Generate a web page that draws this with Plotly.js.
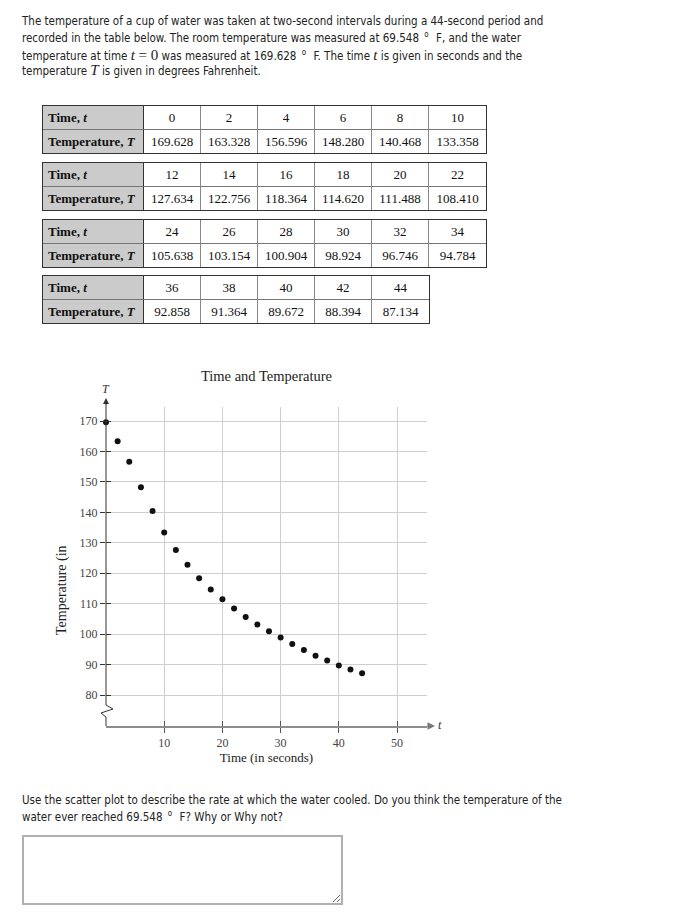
<!DOCTYPE html>
<html>
<head>
<meta charset="utf-8">
<script src="https://cdn.plot.ly/plotly-3.0.1.min.js"></script>
<style>
  body { margin:0; background:#fff; width:699px; height:916px; position:relative; overflow:hidden;
         font-family:"DejaVu Sans Condensed","DejaVu Sans",sans-serif; font-size:11.5px; color:#222; }
  .ln { position:absolute; left:22px; white-space:nowrap; line-height:16px; }
  .m { font-family:"Liberation Serif",serif; font-size:15px; }
  .deg { font-size:8px; position:relative; top:-5px; padding:0 4px 0 2px; }
  table { position:absolute; left:42px; border-collapse:separate; border-spacing:0; border:1px solid #333;
          table-layout:fixed; font-family:"Liberation Serif",serif; font-size:13px; color:#111; }
  td { height:23px; padding:0; text-align:center; border-right:1px solid #888; border-bottom:1px solid #777; }
  tr:last-child td { border-bottom:none; }
  td:last-child { border-right:none; }
  td.h { background:#cbcbcb; text-align:left; padding-left:5px; font-weight:bold; border-right:1px solid #333; }
  #chart { position:absolute; left:0; top:350px; width:699px; height:430px; }
  textarea { position:absolute; left:22px; top:835px; width:321px; height:70px; box-sizing:border-box;
             border:2px solid #b0b0b0; resize:both; }
</style>
</head>
<body>
<div class="ln" style="top:13px">The temperature of a cup of water was taken at two-second intervals during a 44-second period and</div>
<div class="ln" style="top:30px">recorded in the table below. The room temperature was measured at 69.548 <span class="deg">o</span> F, and the water</div>
<div class="ln" style="top:47px">temperature at time <span class="m"><i>t</i> = 0</span> was measured at 169.628 <span class="deg">o</span> F. The time <span class="m"><i>t</i></span> is given in seconds and the</div>
<div class="ln" style="top:62px">temperature <span class="m"><i>T</i></span> is given in degrees Fahrenheit.</div>

<div id="tables"></div>
<div id="chart"></div>

<div class="ln" style="top:792px">Use the scatter plot to describe the rate at which the water cooled. Do you think the temperature of the</div>
<div class="ln" style="top:809px">water ever reached 69.548 <span class="deg">o</span> F? Why or Why not?</div>
<textarea></textarea>

<script>
// measurements
const times = [0, 2, 4, 6, 8, 10, 12, 14, 16, 18, 20, 22, 24, 26, 28, 30, 32, 34, 36, 38, 40, 42, 44];
const temps = [169.628, 163.328, 156.596, 148.280, 140.468, 133.358,
               127.634, 122.756, 118.364, 114.620, 111.488, 108.410,
               105.638, 103.154, 100.904, 98.924, 96.746, 94.784,
               92.858, 91.364, 89.672, 88.394, 87.134];
const xTicks = [10, 20, 30, 40, 50];
const yTicks = [80, 90, 100, 110, 120, 130, 140, 150, 160, 170];

// tables, six readings per table
const holder = document.getElementById('tables');
for (let i = 0; i * 6 < times.length; i++) {
  const ts = times.slice(i * 6, i * 6 + 6);
  const vs = temps.slice(i * 6, i * 6 + 6);
  const tbl = document.createElement('table');
  tbl.style.top = Math.round(105 + i * 56.8) + 'px';
  let cols = '<colgroup><col style="width:101px">' + ts.map(() => '<col style="width:57px">').join('') + '</colgroup>';
  let r1 = '<tr><td class="h">Time, <i>t</i></td>' + ts.map(t => `<td>${t}</td>`).join('') + '</tr>';
  let r2 = '<tr><td class="h">Temperature, <i>T</i></td>' + vs.map(v => `<td>${v.toFixed(3)}</td>`).join('') + '</tr>';
  tbl.innerHTML = cols + r1 + r2;
  holder.appendChild(tbl);
}

// chart
const serif = 'Liberation Serif, Times New Roman, serif';
const xRange = [0, 55.15], yRange = [69.82, 174.6];
const L = 106, R = 427, T = 407, B = 726;          // plot box, page pixels
const top0 = 350;                                  // chart div top
const pX = p => (p - L) / (R - L);                 // page px -> paper
const pY = p => (B - p) / (B - T);

const data = [
  { type:'scatter', mode:'markers', x:times, y:temps, cliponaxis:false, hoverinfo:'skip',
    marker:{ color:'#111', size:6 } },
  { type:'scatter', x:[], y:[], xaxis:'x2', yaxis:'y2', hoverinfo:'skip' }
];

const tickFont = { family:serif, size:12, color:'#444' };
const label = (x, y, text, extra) => Object.assign({
  xref:'paper', yref:'paper', x:pX(x), y:pY(y), text:text, showarrow:false,
  xanchor:'center', yanchor:'middle', font:{ family:serif, size:12, color:'#333' }
}, extra || {});

const layout = {
  width:699, height:430, showlegend:false,
  margin:{ l:L, r:699 - R, t:T - top0, b:top0 + 430 - B },
  paper_bgcolor:'#fff', plot_bgcolor:'#fff',
  title:{ text:'Time and Temperature', font:{ family:serif, size:14.5, color:'#222' },
          x:0.5, xref:'paper', xanchor:'center', y:1 - 26 / 430, yanchor:'middle' },
  xaxis:{ range:xRange, tickvals:xTicks, ticks:'outside', ticklen:5, tickcolor:'#555',
          showgrid:true, gridcolor:'#cfcfcf', zeroline:false,
          showline:true, linecolor:'#8c8c8c', linewidth:2,
          tickfont:tickFont, automargin:false, fixedrange:true,
          title:{ text:'Time (in seconds)', font:{ family:serif, size:13, color:'#222' }, standoff:1 } },
  xaxis2:{ overlaying:'x', anchor:'y2', range:xRange, tickvals:xTicks, ticks:'inside', ticklen:5,
           tickcolor:'#555', showticklabels:false, showgrid:false, zeroline:false, showline:false },
  yaxis:{ range:yRange, tickvals:yTicks, ticks:'outside', ticklen:5, tickcolor:'#333',
          showgrid:true, gridcolor:'#cfcfcf', zeroline:false, showline:false,
          tickfont:tickFont, automargin:false, fixedrange:true },
  yaxis2:{ overlaying:'y', anchor:'x2', range:yRange, tickvals:yTicks, ticks:'inside', ticklen:5,
           tickcolor:'#333', showticklabels:false, showgrid:false, zeroline:false, showline:false },
  shapes:[
    // vertical axis with the break mark below 80
    { type:'path', xref:'paper', yref:'paper', layer:'above', line:{ color:'#333', width:1 },
      path:`M ${pX(106)},${pY(726)} L ${pX(106)},${pY(717)} L ${pX(101)},${pY(713)} L ${pX(113)},${pY(709)} L ${pX(106)},${pY(705)} L ${pX(106)},${pY(402)}` }
  ],
  annotations:[
    { xref:'paper', yref:'paper', x:pX(106), y:pY(398), ax:0, ay:8, text:'', showarrow:true,
      arrowhead:2, arrowsize:1.2, arrowwidth:1, arrowcolor:'#333' },
    { xref:'paper', yref:'paper', x:pX(435), y:pY(726), ax:-9, ay:0, text:'', showarrow:true,
      arrowhead:2, arrowsize:1, arrowwidth:1.5, arrowcolor:'#777' },
    label(106, 389, '<i>T</i>'),
    label(440, 725, '<i>t</i>'),
    label(62, 590, 'Temperature (in', { textangle:-90, font:{ family:serif, size:14, color:'#222' } })
  ]
};

Plotly.newPlot('chart', data, layout, { staticPlot:true, displayModeBar:false });
</script>
</body>
</html>
